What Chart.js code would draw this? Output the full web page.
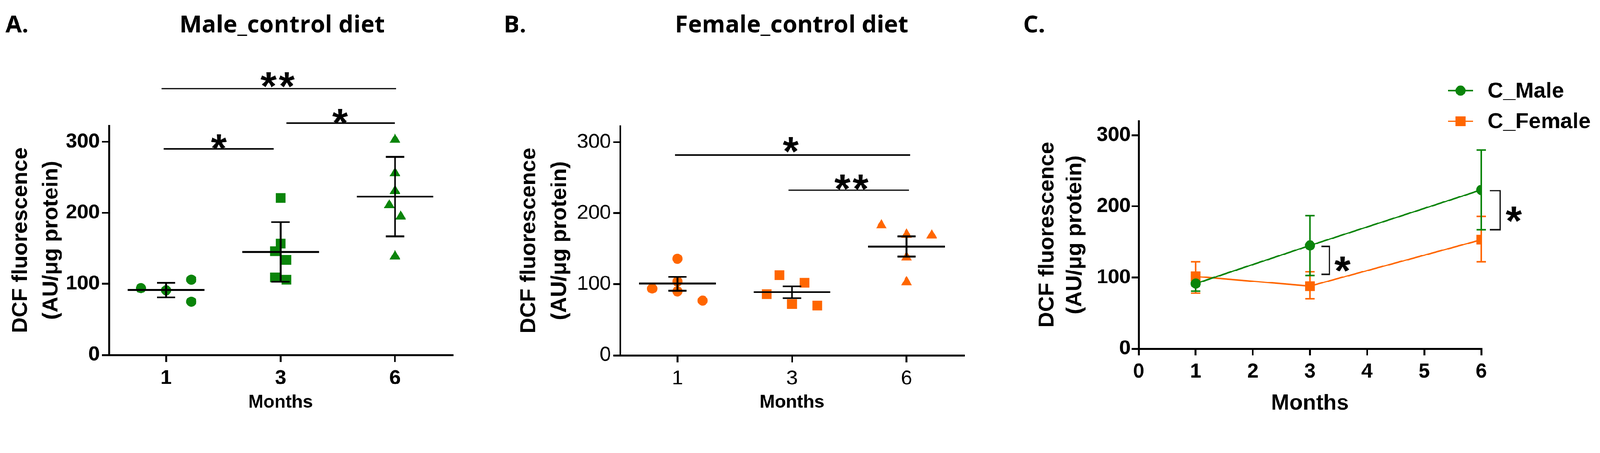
<!DOCTYPE html>
<html>
<head>
<meta charset="utf-8">
<title>DCF fluorescence - control diet</title>
<script src="https://cdn.jsdelivr.net/npm/chart.js@4.4.1/dist/chart.umd.min.js"></script>
<style>
html, body { margin: 0; padding: 0; background: #fff; overflow: hidden; }
#wrap { position: relative; width: 4394px; height: 1160px; transform-origin: 0 0; }
canvas { position: absolute; top: 0; }
</style>
</head>
<body>
<div id="wrap">
<canvas id="chartA" width="1300" height="1160" style="left:0px"></canvas>
<canvas id="chartB" width="1450" height="1160" style="left:1300px"></canvas>
<canvas id="chartC" width="1644" height="1160" style="left:2750px"></canvas>
</div>
<script>
// the figure is laid out in 4394 x 1160 picture pixels; fit it to the window
const fit = window.innerWidth / 4394;
document.getElementById("wrap").style.transform = "scale(" + fit + ")";

// ------------------------------
// Data
// ------------------------------

const months = ["1", "3", "6"];
const monthNumbers = [1, 3, 6];
const yTicks = [0, 100, 200, 300];
const lineTicks = [0, 1, 2, 3, 4, 5, 6];

// Male, control diet (A) - single animals
const maleM1 = [94, 91, 106, 75];
const maleM3 = [221, 157, 146, 134, 109, 106];
const maleM6 = [303, 256, 231, 211, 195, 139];
// sideways scatter of the dots (in category widths)
const maleM1Jitter = [-0.22, 0, 0.22, 0.22];
const maleM3Jitter = [0, 0, -0.05, 0.05, -0.05, 0.05];
const maleM6Jitter = [0, 0, 0, -0.05, 0.05, 0];
// mean +/- SD
const maleMean = [91.5, 145, 223];
const maleLow = [81, 103, 167];
const maleHigh = [101.5, 187, 279];

// Female, control diet (B)
const femaleM1 = [136, 104, 90, 94, 77];
const femaleM3 = [113, 102, 86, 72, 70];
const femaleM6 = [183, 170, 169, 138, 103];
const femaleM1Jitter = [0, 0, 0, -0.22, 0.22];
const femaleM3Jitter = [-0.11, 0.11, -0.22, 0, 0.22];
const femaleM6Jitter = [-0.22, 0, 0.22, 0, 0];
// mean +/- SEM
const femaleMean = [101, 89, 153];
const femaleLow = [91, 80.5, 139];
const femaleHigh = [110.5, 97, 167.5];

// C: mean +/- SD
const cFemaleMean = [101.5, 88, 153];
const cFemaleLow = [78, 70, 122];
const cFemaleHigh = [122, 108, 186];

// significance marks
const sigA = [
    { from: -0.04, to: 2.01, y: 375, label: "**", tx: 0.975, ty: 392 },
    { from: 1.05, to: 2.0, y: 326.5, label: "*", tx: 1.52, ty: 340.5 },
    { from: -0.02, to: 0.94, y: 290, label: "*", tx: 0.46, ty: 304.5 }
];
const sigB = [
    { from: -0.02, to: 2.03, y: 282, label: "*", tx: 0.99, ty: 301 },
    { from: 0.97, to: 2.02, y: 232.5, label: "**", tx: 1.52, ty: 248 }
];
const sigC = [
    { x0: 3.2, x1: 3.34, top: 143.6, bottom: 104.6, tx: 3.57, ty: 123 },
    { x0: 6.15, x1: 6.33, top: 222, bottom: 167, tx: 6.57, ty: 193 }
];

// ------------------------------
// Styles
// ------------------------------

const GREEN = "#0a840a";
const ORANGE = "#ff6600";
const ARIAL = "'Liberation Sans', Arial, sans-serif";
const CALIBRI = "'Open Sans', Lato, sans-serif";

function points(values, jitter, index){
    return values.map(function(v, i){
        return { x: index + jitter[i], y: v };
    });
}

function line(ctx, x1, y1, x2, y2){
    ctx.beginPath();
    ctx.moveTo(x1, y1);
    ctx.lineTo(x2, y2);
    ctx.stroke();
}

function stars(ctx, text, cx, cy){
    const size = 112;
    const gap = 50;
    ctx.save();
    ctx.fillStyle = "#000";
    ctx.font = "bold " + size + "px " + ARIAL;
    ctx.textAlign = "center";
    ctx.textBaseline = "alphabetic";
    const start = cx - (text.length - 1) * gap / 2;
    for(let i = 0; i < text.length; i++){
        ctx.fillText("*", start + i * gap, cy + size * 0.58);
    }
    ctx.restore();
}

// ------------------------------
// Plugins
// ------------------------------

const heading = {
    id: "heading",
    afterDraw(chart, args, opts){
        const ctx = chart.ctx;
        ctx.save();
        ctx.fillStyle = "#000";
        ctx.font = "bold 65px " + CALIBRI;
        ctx.textBaseline = "alphabetic";
        ctx.textAlign = "left";
        ctx.fillText(opts.label, opts.labelX, opts.baseline);
        if(opts.title){
            ctx.textAlign = "center";
            ctx.fillText(opts.title, opts.titleX, opts.baseline);
        }
        ctx.restore();
    }
};

const dotSummary = {
    id: "dotSummary",
    afterDatasetsDraw(chart, args, opts){
        const ctx = chart.ctx;
        const x = chart.scales.x;
        const y = chart.scales.y;
        ctx.save();
        ctx.strokeStyle = "#000";
        ctx.lineWidth = 5;
        opts.mean.forEach(function(m, i){
            const cx = x.getPixelForValue(i);
            const hw = x.getPixelForValue(i + 0.335) - cx;
            const cap = x.getPixelForValue(i + 0.08) - cx;
            const ym = y.getPixelForValue(m);
            const yl = y.getPixelForValue(opts.low[i]);
            const yh = y.getPixelForValue(opts.high[i]);
            line(ctx, cx - hw, ym, cx + hw, ym);
            line(ctx, cx, yl, cx, yh);
            line(ctx, cx - cap, yl, cx + cap, yl);
            line(ctx, cx - cap, yh, cx + cap, yh);
        });
        ctx.lineWidth = 4;
        opts.sig.forEach(function(s){
            const yy = y.getPixelForValue(s.y);
            line(ctx, x.getPixelForValue(s.from), yy, x.getPixelForValue(s.to), yy);
            stars(ctx, s.label, x.getPixelForValue(s.tx), y.getPixelForValue(s.ty));
        });
        ctx.restore();
    }
};

const lineSummary = {
    id: "lineSummary",
    beforeDatasetsDraw(chart, args, opts){
        const ctx = chart.ctx;
        const x = chart.scales.x;
        const y = chart.scales.y;
        ctx.save();
        ctx.lineWidth = 4;
        opts.bars.forEach(function(b){
            ctx.strokeStyle = b.color;
            monthNumbers.forEach(function(m, i){
                const cx = x.getPixelForValue(m);
                const yl = y.getPixelForValue(b.low[i]);
                const yh = y.getPixelForValue(b.high[i]);
                line(ctx, cx, yl, cx, yh);
                line(ctx, cx - 13, yl, cx + 13, yl);
                line(ctx, cx - 13, yh, cx + 13, yh);
            });
        });
        ctx.restore();
    },
    afterDraw(chart, args, opts){
        const ctx = chart.ctx;
        const x = chart.scales.x;
        const y = chart.scales.y;
        ctx.save();
        ctx.strokeStyle = "#111";
        ctx.lineWidth = 4;
        opts.brackets.forEach(function(b){
            const x0 = x.getPixelForValue(b.x0);
            const x1 = x.getPixelForValue(b.x1);
            const yt = y.getPixelForValue(b.top);
            const yb = y.getPixelForValue(b.bottom);
            ctx.beginPath();
            ctx.moveTo(x0, yt);
            ctx.lineTo(x1, yt);
            ctx.lineTo(x1, yb);
            ctx.lineTo(x0, yb);
            ctx.stroke();
            stars(ctx, "*", x.getPixelForValue(b.tx), y.getPixelForValue(b.ty));
        });

        // legend
        const lg = opts.legend;
        chart.data.datasets.forEach(function(ds, i){
            const ly = lg.y[i];
            ctx.strokeStyle = ds.borderColor;
            ctx.fillStyle = ds.borderColor;
            ctx.lineWidth = 4;
            line(ctx, lg.x, ly, lg.x + 68, ly);
            const mx = lg.x + 34;
            ctx.beginPath();
            if(ds.pointStyle === "rect"){
                ctx.rect(mx - 14, ly - 13, 28, 26);
            }else{
                ctx.arc(mx, ly, 14, 0, Math.PI * 2);
            }
            ctx.fill();
            ctx.fillStyle = "#000";
            ctx.font = "bold 60px " + ARIAL;
            ctx.textAlign = "left";
            ctx.textBaseline = "middle";
            ctx.fillText(ds.label, lg.textX, ly + 2);
        });
        ctx.restore();
    }
};

// ------------------------------
// Axis helpers
// ------------------------------

function xAxis(opt){
    return {
        type: "linear",
        min: opt.min,
        max: opt.max,
        afterBuildTicks: function(s){ s.ticks = opt.ticks.map(function(v){ return { value: v }; }); },
        afterFit: function(s){ s.height = opt.height; },
        ticks: {
            callback: opt.labels,
            color: "#000",
            padding: opt.padding,
            maxRotation: 0,
            autoSkip: false,
            font: { family: ARIAL, size: 56, weight: opt.weight }
        },
        grid: { drawOnChartArea: false, drawTicks: true, tickLength: opt.tickLength, lineWidth: 5, color: "#000" },
        border: { display: true, color: "#000", width: 5 },
        title: {
            display: true,
            text: "Months",
            color: "#000",
            font: { family: ARIAL, size: opt.titleSize, weight: "bold", lineHeight: 1.2 },
            padding: { top: 0, bottom: opt.titleBottom }
        }
    };
}

function yAxis(opt){
    return {
        min: 0,
        max: opt.max,
        afterBuildTicks: function(s){ s.ticks = yTicks.map(function(v){ return { value: v }; }); },
        afterFit: function(s){ s.width = opt.width; },
        ticks: {
            color: "#000",
            padding: opt.padding,
            font: { family: ARIAL, size: 56, weight: opt.weight }
        },
        grid: { drawOnChartArea: false, drawTicks: true, tickLength: 19, lineWidth: 5, color: "#000" },
        border: { display: true, color: "#000", width: 5 },
        title: {
            display: true,
            text: ["DCF fluorescence", "(AU/\u03bcg protein)"],
            color: "#000",
            font: { family: ARIAL, size: 60, weight: "bold", lineHeight: opt.lineHeight },
            padding: { top: opt.titleTop, bottom: 0 }
        }
    };
}

function dots(values, jitter, index, style, radius, color){
    return {
        data: points(values, jitter, index),
        pointStyle: style,
        pointRadius: radius,
        pointBackgroundColor: color,
        pointBorderColor: color,
        pointBorderWidth: 0,
        backgroundColor: color,
        borderColor: color
    };
}

const common = {
    responsive: false,
    animation: false,
    devicePixelRatio: 1,
    events: []
};

// ------------------------------
// A. Male_control diet
// ------------------------------

new Chart(document.getElementById("chartA"), {
    type: "scatter",
    data: {
        datasets: [
            dots(maleM1, maleM1Jitter, 0, "circle", 14, GREEN),
            dots(maleM3, maleM3Jitter, 1, "rect", 19, GREEN),
            dots(maleM6, maleM6Jitter, 2, "triangle", 17, GREEN)
        ]
    },
    options: Object.assign({}, common, {
        layout: { padding: { left: 0, top: 345, right: 58, bottom: 0 } },
        plugins: {
            legend: { display: false },
            tooltip: { enabled: false },
            heading: { label: "A.", labelX: 15, title: "Male_control diet", titleX: 775, baseline: 89 },
            dotSummary: { mean: maleMean, low: maleLow, high: maleHigh, sig: sigA }
        },
        scales: {
            x: xAxis({ min: -0.5, max: 2.5, ticks: [0, 1, 2], labels: function(v){ return months[v]; },
                height: 185, padding: 12, weight: "bold", tickLength: 19, titleSize: 50, titleBottom: 24 }),
            y: yAxis({ max: 323, width: 299, padding: 6, weight: "bold", lineHeight: 1.4, titleTop: 15 })
        }
    }),
    plugins: [heading, dotSummary]
});

// ------------------------------
// B. Female_control diet
// ------------------------------

new Chart(document.getElementById("chartB"), {
    type: "scatter",
    data: {
        datasets: [
            dots(femaleM1, femaleM1Jitter, 0, "circle", 14, ORANGE),
            dots(femaleM3, femaleM3Jitter, 1, "rect", 19, ORANGE),
            dots(femaleM6, femaleM6Jitter, 2, "triangle", 17, ORANGE)
        ]
    },
    options: Object.assign({}, common, {
        layout: { padding: { left: 0, top: 346, right: 103, bottom: 0 } },
        plugins: {
            legend: { display: false },
            tooltip: { enabled: false },
            heading: { label: "B.", labelX: 83, title: "Female_control diet", titleX: 874, baseline: 89 },
            dotSummary: { mean: femaleMean, low: femaleLow, high: femaleHigh, sig: sigB }
        },
        scales: {
            x: xAxis({ min: -0.5, max: 2.5, ticks: [0, 1, 2], labels: function(v){ return months[v]; },
                height: 184, padding: 12, weight: "normal", tickLength: 19, titleSize: 50, titleBottom: 24 }),
            y: yAxis({ max: 323, width: 403, padding: 6, weight: "normal", lineHeight: 1.4, titleTop: 111 })
        }
    }),
    plugins: [heading, dotSummary]
});

// ------------------------------
// C. Male vs female over time
// ------------------------------

new Chart(document.getElementById("chartC"), {
    type: "scatter",
    data: {
        datasets: [
            {
                label: "C_Male",
                data: monthNumbers.map(function(m, i){ return { x: m, y: maleMean[i] }; }),
                showLine: true,
                borderColor: GREEN,
                backgroundColor: GREEN,
                borderWidth: 4,
                pointStyle: "circle",
                pointRadius: 14,
                pointBackgroundColor: GREEN,
                pointBorderWidth: 0
            },
            {
                label: "C_Female",
                data: monthNumbers.map(function(m, i){ return { x: m, y: cFemaleMean[i] }; }),
                showLine: true,
                borderColor: ORANGE,
                backgroundColor: ORANGE,
                borderWidth: 4,
                pointStyle: "rect",
                pointRadius: 19,
                pointBackgroundColor: ORANGE,
                pointBorderWidth: 0
            }
        ]
    },
    options: Object.assign({}, common, {
        layout: { padding: { left: 0, top: 332, right: 326, bottom: 0 } },
        plugins: {
            legend: { display: false },
            tooltip: { enabled: false },
            heading: { label: "C.", labelX: 60, baseline: 89 },
            lineSummary: {
                bars: [
                    { color: ORANGE, low: cFemaleLow, high: cFemaleHigh },
                    { color: GREEN, low: maleLow, high: maleHigh }
                ],
                brackets: sigC,
                legend: { x: 1227, y: [249, 333], textX: 1335 }
            }
        },
        scales: {
            x: xAxis({ min: 0, max: 6, ticks: lineTicks, labels: function(v){ return String(v); },
                height: 202, padding: 12, weight: "bold", tickLength: 18, titleSize: 60, titleBottom: 16 }),
            y: yAxis({ max: 320, width: 377, padding: 3, weight: "bold", lineHeight: 1.27, titleTop: 88 })
        }
    }),
    plugins: [heading, lineSummary]
});
</script>
</body>
</html>
